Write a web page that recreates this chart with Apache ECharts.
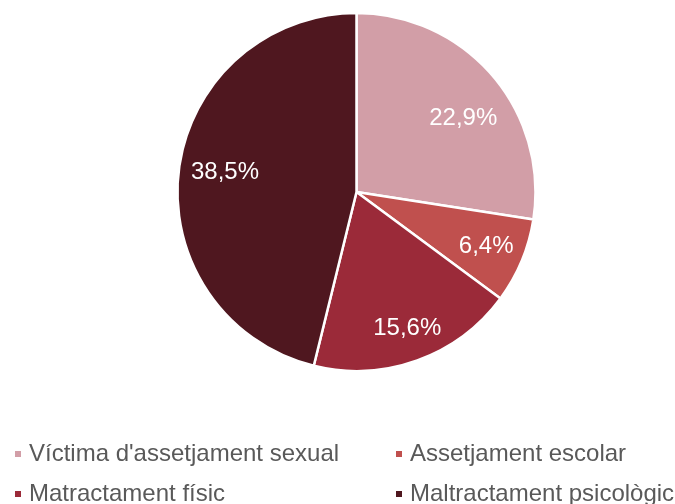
<!DOCTYPE html>
<html>
<head>
<meta charset="utf-8">
<script src="https://cdn.jsdelivr.net/npm/echarts@6/dist/echarts.min.js"></script>
<style>
  html, body { margin: 0; padding: 0; background: #ffffff; }
  #chart { width: 675px; height: 504px; }
</style>
</head>
<body>
<div id="chart"></div>
<script>
// Categories of maltreatment and their shares (%)
const categories = [
  "Víctima d'assetjament sexual",
  'Assetjament escolar',
  'Matractament físic',
  'Maltractament psicològic'
];
const shares = [22.9, 6.4, 15.6, 38.5];
const colors = ['#D29EA7', '#C0504E', '#9B2A39', '#4F171F'];

// small nudges for the value labels inside the slices
const labelNudge = [[0, 18], [0, 0], [3, 4], [8, -3]];

const pieData = categories.map((name, i) => ({
  name: name,
  value: shares[i],
  itemStyle: { color: colors[i] }
}));

const fmt = p => p.value.toFixed(1).replace('.', ',') + '%';
const font = '"Liberation Sans", Arial, sans-serif';

const legendCommon = {
  orient: 'vertical',
  top: 442,
  height: 120,
  padding: 0,
  icon: 'rect',
  itemWidth: 8,
  itemHeight: 8,
  itemGap: 16,
  selectedMode: false,
  textStyle: {
    color: '#595959',
    fontSize: 24,
    lineHeight: 24,
    fontFamily: font,
    padding: [0, 0, 0, 2]
  }
};

const chart = echarts.init(document.getElementById('chart'), null, { renderer: 'canvas' });
chart.setOption({
  backgroundColor: '#ffffff',
  animation: false,
  legend: [
    Object.assign({ left: 13, data: [categories[0], categories[2]] }, legendCommon),
    Object.assign({ left: 394, data: [categories[1], categories[3]] }, legendCommon)
  ],
  series: [
    {
      // the visible pie
      type: 'pie',
      center: [356.5, 192],
      radius: [0, 179],
      startAngle: 90,
      clockwise: true,
      silent: true,
      label: { show: false },
      labelLine: { show: false },
      itemStyle: { borderColor: '#ffffff', borderWidth: 2.5 },
      data: pieData
    },
    {
      // value labels, placed on a transparent ring further out
      type: 'pie',
      center: [356.5, 192],
      radius: [96, 179],
      startAngle: 90,
      clockwise: true,
      silent: true,
      itemStyle: { color: 'transparent', borderWidth: 0 },
      label: {
        show: true,
        position: 'inside',
        formatter: fmt,
        color: '#ffffff',
        fontSize: 24,
        fontFamily: font
      },
      labelLine: { show: false },
      data: categories.map((name, i) => ({
        name: name,
        value: shares[i],
        label: { offset: labelNudge[i] }
      }))
    }
  ]
});
</script>
</body>
</html>
